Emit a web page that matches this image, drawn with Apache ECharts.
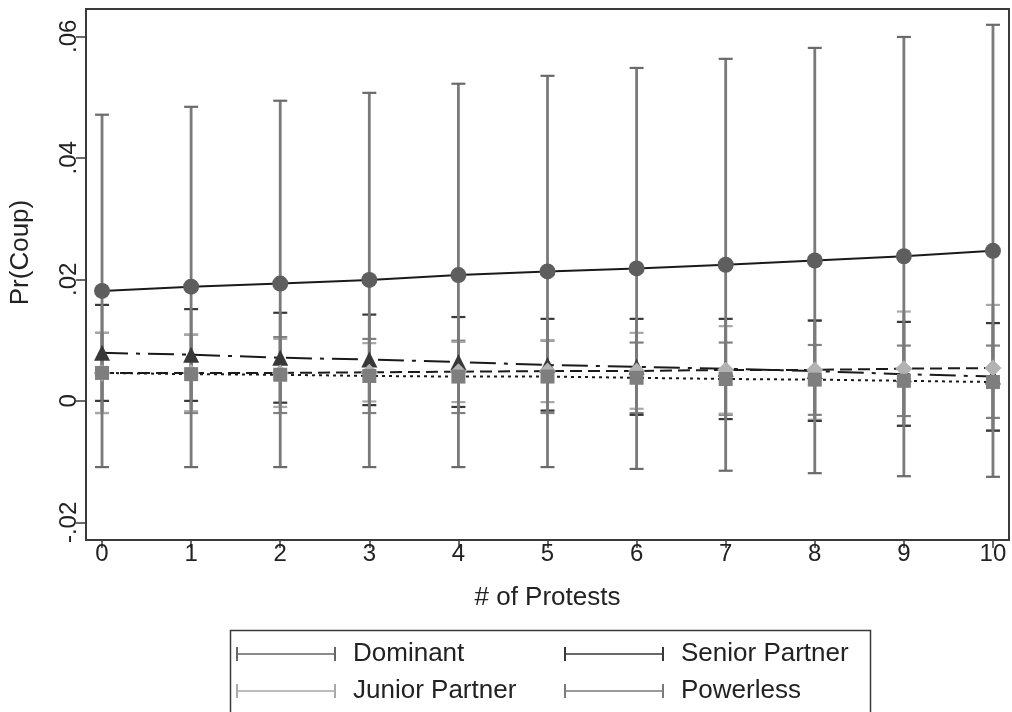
<!DOCTYPE html>
<html>
<head>
<meta charset="utf-8">
<script src="https://cdn.jsdelivr.net/npm/echarts@6/dist/echarts.min.js"></script>
<style>
html,body{margin:0;padding:0;background:#fff;}
#chart{width:1012px;height:712px;}
</style>
</head>
<body>
<div id="chart"></div>
<script>
// ---- data ----
const xVals = [0,1,2,3,4,5,6,7,8,9,10];
const xTickLabels = ['0','1','2','3','4','5','6','7','8','9','10'];
const yTicks = [-0.02, 0, 0.02, 0.04, 0.06];
const yTickLabels = ['-.02', '0', '.02', '.04', '.06'];

const dominantMean  = [0.0181,0.0188,0.0193,0.0199,0.0207,0.0213,0.0218,0.0224,0.0231,0.0238,0.0247];
const dominantUpper = [0.0471,0.0484,0.0494,0.0507,0.0522,0.0535,0.0548,0.0563,0.0581,0.0599,0.0619];
const dominantLower = [-0.0109,-0.0109,-0.0109,-0.0109,-0.0109,-0.0109,-0.0112,-0.0115,-0.0119,-0.0124,-0.0125];

const seniorMean  = [0.0079,0.0076,0.0071,0.0068,0.0064,0.0059,0.0056,0.0053,0.0049,0.0044,0.0040];
const seniorUpper = [0.0158,0.0151,0.0145,0.0142,0.0138,0.0135,0.0135,0.0135,0.0132,0.0130,0.0128];
const seniorLower = [0.0000,0.0000,-0.0003,-0.0007,-0.0010,-0.0016,-0.0023,-0.0030,-0.0033,-0.0041,-0.0049];

const juniorMean  = [0.0046,0.0046,0.0046,0.0047,0.0048,0.0049,0.0049,0.0051,0.0051,0.0053,0.0054];
const juniorUpper = [0.0112,0.0109,0.0102,0.0095,0.0097,0.0100,0.0112,0.0123,0.0133,0.0147,0.0158];
const juniorLower = [-0.0020,-0.0017,-0.0010,-0.0001,-0.0002,-0.0002,-0.0013,-0.0021,-0.0031,-0.0041,-0.0049];

const powerlessMean  = [0.0046,0.0044,0.0043,0.0041,0.0040,0.0040,0.0038,0.0036,0.0035,0.0033,0.0031];
const powerlessUpper = [0.0112,0.0109,0.0105,0.0102,0.0099,0.0099,0.0096,0.0096,0.0092,0.0091,0.0091];
const powerlessLower = [-0.0020,-0.0020,-0.0020,-0.0020,-0.0020,-0.0020,-0.0020,-0.0023,-0.0023,-0.0025,-0.0028];

// ---- helpers ----
const FONT = '"Liberation Sans", Arial, Helvetica, sans-serif';
function ciData(lo, hi){ return xVals.map((x,i)=>[x, lo[i], hi[i]]); }
function ptData(m){ return xVals.map((x,i)=>[x, m[i]]); }

function rcap(name, lo, hi, capColor, z){
  return {
    name: name, type: 'custom', z: z,
    data: ciData(lo, hi),
    encode: {x: 0, y: [1, 2]},
    renderItem: function(params, api){
      const x = api.value(0);
      const pHi = api.coord([x, api.value(2)]);
      const pLo = api.coord([x, api.value(1)]);
      const hw = 7;
      return {type:'group', children:[
        {type:'line', shape:{x1:pHi[0], y1:pHi[1], x2:pLo[0], y2:pLo[1]}, style:{stroke:'#7a7a7a', lineWidth:2.8}},
        {type:'line', shape:{x1:pHi[0]-hw, y1:pHi[1], x2:pHi[0]+hw, y2:pHi[1]}, style:{stroke:capColor, lineWidth:2.2}},
        {type:'line', shape:{x1:pLo[0]-hw, y1:pLo[1], x2:pLo[0]+hw, y2:pLo[1]}, style:{stroke:capColor, lineWidth:2.2}}
      ]};
    }
  };
}
function meanLine(name, m, symbol, size, markerColor, dash, z){
  return {
    name: name + ' mean', type:'line', z: z,
    data: ptData(m),
    symbol: symbol, symbolSize: size,
    itemStyle: {color: markerColor, opacity: 1},
    lineStyle: {color: '#1a1a1a', width: 2, type: dash},
    emphasis: {disabled: true}
  };
}

const capIcon = 'path://M0,0H2V14H0ZM0,6.2H100V7.8H0ZM98,0H100V14H98Z';
function legendAt(name, color, left, top){
  return {
    data: [{name: name, icon: capIcon, itemStyle: {color: color}}],
    left: left, top: top, orient: 'vertical', padding: 0,
    itemWidth: 100, itemHeight: 14, selectedMode: false,
    textStyle: {fontFamily: FONT, fontSize: 26, color: '#222', lineHeight: 30, padding: [0,0,0,12]}
  };
}

const chart = echarts.init(document.getElementById('chart'), null, {renderer:'canvas'});
chart.setOption({
  animation: false,
  backgroundColor: '#fff',
  textStyle: {fontFamily: FONT},
  grid: {left: 86, right: 3, top: 9, bottom: 172, show: true, borderColor: '#3a3a3a', borderWidth: 2, containLabel: false},
  xAxis: {
    type: 'value', min: -0.18, max: 10.18,
    name: '# of Protests', nameLocation: 'middle', nameGap: 45,
    nameTextStyle: {fontFamily: FONT, fontSize: 26, color: '#222'},
    axisLine: {show: true, onZero: false, lineStyle: {color: '#3a3a3a', width: 2}},
    axisTick: {show: true, length: 8, lineStyle: {color: '#3a3a3a', width: 1.5}, customValues: xVals},
    axisLabel: {fontFamily: FONT, fontSize: 24, color: '#222', margin: 2, customValues: xVals,
      formatter: v => xTickLabels[xVals.indexOf(Math.round(v))]},
    splitLine: {show: false}
  },
  yAxis: {
    type: 'value', min: -0.0229, max: 0.0645,
    name: 'Pr(Coup)', nameLocation: 'middle', nameGap: 52, nameRotate: 90,
    nameTextStyle: {fontFamily: FONT, fontSize: 26, color: '#222', padding: [0,0,0,44]},
    axisLine: {show: true, onZero: false, lineStyle: {color: '#3a3a3a', width: 2}},
    axisTick: {show: true, length: 10, lineStyle: {color: '#3a3a3a', width: 1.5}, customValues: yTicks},
    axisLabel: {fontFamily: FONT, fontSize: 24, color: '#222', margin: 5, rotate: 90, customValues: yTicks,
      formatter: v => { let best = 0; yTicks.forEach((t,i)=>{ if (Math.abs(t-v) < Math.abs(yTicks[best]-v)) best = i; }); return yTickLabels[best]; }},
    splitLine: {show: false}
  },
  legend: [
    legendAt('Dominant', '#666666', 236, 639),
    legendAt('Junior Partner', '#a8a8a8', 236, 676),
    legendAt('Senior Partner', '#383838', 564, 639),
    legendAt('Powerless', '#7a7a7a', 564, 676)
  ],
  graphic: [{type:'rect', left: 228, top: 628, shape:{width: 640, height: 100}, style:{fill: null, stroke:'#3a3a3a', lineWidth: 1.5}, silent: true, z: 0}],
  series: [
    rcap('Powerless', powerlessLower, powerlessUpper, '#808080', 2),
    rcap('Junior Partner', juniorLower, juniorUpper, '#a8a8a8', 2),
    rcap('Senior Partner', seniorLower, seniorUpper, '#383838', 2),
    rcap('Dominant', dominantLower, dominantUpper, '#6a6a6a', 2),
    meanLine('Dominant', dominantMean, 'circle', 16, '#5e5e5e', 'solid', 5),
    meanLine('Senior Partner', seniorMean, 'triangle', 16, '#383838', [26, 8, 4, 8], 5),
    meanLine('Junior Partner', juniorMean, 'diamond', 17, '#b2b2b2', [12, 6], 5),
    meanLine('Powerless', powerlessMean, 'rect', 14, '#7e7e7e', [3, 4], 5)
  ]
});
</script>
</body>
</html>
